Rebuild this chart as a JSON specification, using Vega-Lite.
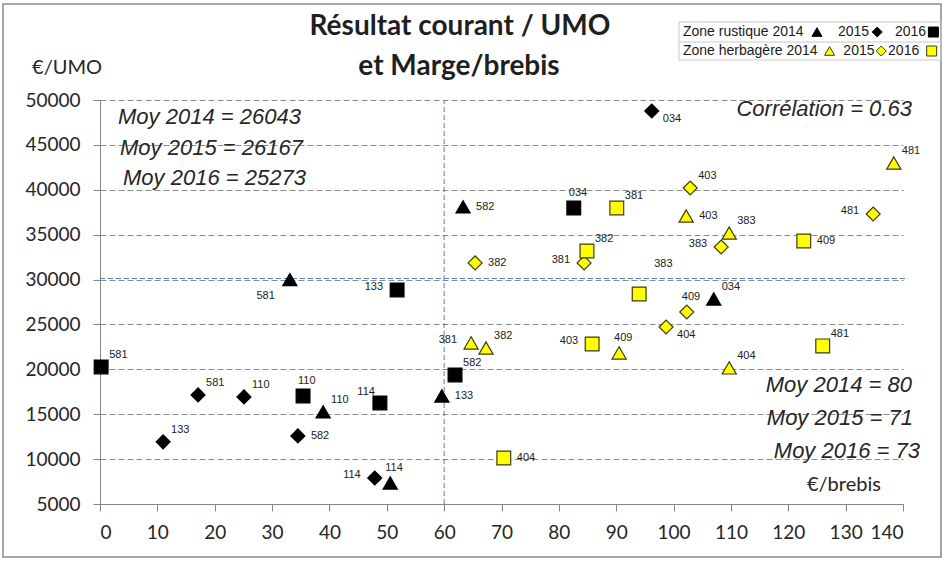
{
  "$schema": "https://vega.github.io/schema/vega-lite/v6.json",
  "width": 803,
  "height": 404,
  "autosize": {"type": "none"},
  "padding": {"left": 100, "top": 100, "right": 39, "bottom": 58},
  "background": "white",
  "config": {
    "view": {"stroke": null},
    "axis": {"labelFont": "Lato", "labelFontSize": 19, "labelColor": "#262626", "domainColor": "#868686", "tickColor": "#868686", "tickSize": 7, "title": null}
  },
  "datasets": {
    "pts": [
      {"zone": "rustique", "year": "2014", "x": 33.1, "y": 30000, "id": "581", "lp": "ll"},
      {"zone": "rustique", "year": "2014", "x": 63.3, "y": 38100, "id": "582", "lp": "r"},
      {"zone": "rustique", "year": "2014", "x": 38.9, "y": 15260, "id": "110", "lp": "ur"},
      {"zone": "rustique", "year": "2014", "x": 50.6, "y": 7350, "id": "114", "lp": "u"},
      {"zone": "rustique", "year": "2014", "x": 59.6, "y": 17040, "id": "133", "lp": "r"},
      {"zone": "rustique", "year": "2014", "x": 107.0, "y": 27840, "id": "034", "lp": "ur"},
      {"zone": "rustique", "year": "2015", "x": 96.2, "y": 48770, "id": "034", "lp": "lr"},
      {"zone": "rustique", "year": "2015", "x": 17.1, "y": 17150, "id": "581", "lp": "ur"},
      {"zone": "rustique", "year": "2015", "x": 25.1, "y": 16930, "id": "110", "lp": "ur"},
      {"zone": "rustique", "year": "2015", "x": 11.0, "y": 11920, "id": "133", "lp": "ur"},
      {"zone": "rustique", "year": "2015", "x": 34.5, "y": 12580, "id": "582", "lp": "r"},
      {"zone": "rustique", "year": "2015", "x": 47.9, "y": 7900, "id": "114", "lp": "l"},
      {"zone": "rustique", "year": "2016", "x": 0.2, "y": 20270, "id": "581", "lp": "ur"},
      {"zone": "rustique", "year": "2016", "x": 51.8, "y": 28840, "id": "133", "lp": "l"},
      {"zone": "rustique", "year": "2016", "x": 35.4, "y": 17040, "id": "110", "lp": "u"},
      {"zone": "rustique", "year": "2016", "x": 48.8, "y": 16260, "id": "114", "lp": "ul"},
      {"zone": "rustique", "year": "2016", "x": 61.9, "y": 19380, "id": "582", "lp": "ur"},
      {"zone": "rustique", "year": "2016", "x": 82.6, "y": 37970, "id": "034", "lp": "u"},
      {"zone": "herbagère", "year": "2014", "x": 138.4, "y": 42980, "id": "481", "lp": "ur"},
      {"zone": "herbagère", "year": "2014", "x": 102.2, "y": 37080, "id": "403", "lp": "r"},
      {"zone": "herbagère", "year": "2014", "x": 109.7, "y": 35190, "id": "383", "lp": "ur"},
      {"zone": "herbagère", "year": "2014", "x": 64.7, "y": 22940, "id": "381", "lp": "l"},
      {"zone": "herbagère", "year": "2014", "x": 67.3, "y": 22380, "id": "382", "lp": "ur"},
      {"zone": "herbagère", "year": "2014", "x": 90.5, "y": 21830, "id": "409", "lp": "u"},
      {"zone": "herbagère", "year": "2014", "x": 109.7, "y": 20160, "id": "404", "lp": "ur"},
      {"zone": "herbagère", "year": "2015", "x": 102.9, "y": 40200, "id": "403", "lp": "ur"},
      {"zone": "herbagère", "year": "2015", "x": 134.8, "y": 37300, "id": "481", "lp": "l"},
      {"zone": "herbagère", "year": "2015", "x": 108.3, "y": 33630, "id": "383", "lp": "l"},
      {"zone": "herbagère", "year": "2015", "x": 65.4, "y": 31850, "id": "382", "lp": "r"},
      {"zone": "herbagère", "year": "2015", "x": 84.4, "y": 31850, "id": "381", "lp": "l"},
      {"zone": "herbagère", "year": "2015", "x": 102.3, "y": 26390, "id": "409", "lp": "u"},
      {"zone": "herbagère", "year": "2015", "x": 98.7, "y": 24720, "id": "404", "lp": "lr"},
      {"zone": "herbagère", "year": "2016", "x": 90.1, "y": 37970, "id": "381", "lp": "ur"},
      {"zone": "herbagère", "year": "2016", "x": 84.9, "y": 33180, "id": "382", "lp": "ur"},
      {"zone": "herbagère", "year": "2016", "x": 122.7, "y": 34300, "id": "409", "lp": "r"},
      {"zone": "herbagère", "year": "2016", "x": 94.0, "y": 28400, "id": "383", "lp": "uu"},
      {"zone": "herbagère", "year": "2016", "x": 85.8, "y": 22830, "id": "403", "lp": "l"},
      {"zone": "herbagère", "year": "2016", "x": 126.0, "y": 22610, "id": "481", "lp": "ur"},
      {"zone": "herbagère", "year": "2016", "x": 70.4, "y": 10130, "id": "404", "lp": "r"}
    ],
    "frame": [{"x": -16.91, "x2": 146.62, "y": 60691, "y2": -891}],
    "legbox": [{"x": 100.94, "x2": 146.62, "y": 58686, "y2": 54454}],
    "legmid": [{"x": 100.94, "x2": 146.62, "y": 56459}],
    "vmean": [{"x": 60, "y": 5000, "y2": 50000}],
    "hmean": [{"x": 0, "x2": 140.4, "y": 30120}],
    "italic": [
      {"x": 3.14, "y": 48107, "t": "Moy 2014  = 26043"},
      {"x": 3.49, "y": 44655, "t": "Moy 2015 = 26167"},
      {"x": 4.01, "y": 41314, "t": "Moy 2016  = 25273"}
    ],
    "italicR": [
      {"x": 141.56, "y": 48998, "t": "Corrélation = 0.63"},
      {"x": 141.56, "y": 18262, "t": "Moy 2014  = 80"},
      {"x": 141.74, "y": 14588, "t": "Moy 2015 = 71"},
      {"x": 142.96, "y": 10913, "t": "Moy 2016  = 73"}
    ],
    "titles": [
      {"x": 62.76, "y": 57238, "t": "Résultat courant / UMO"},
      {"x": 62.59, "y": 52784, "t": "et Marge/brebis"}
    ],
    "units": [
      {"x": -5.75, "y": 53563, "t": "€/UMO"},
      {"x": 129.7, "y": 7126, "t": "€/brebis"}
    ],
    "legtext": [
      {"x": 101.64, "y": 57572, "t": "Zone rustique  2014"},
      {"x": 128.66, "y": 57572, "t": "2015"},
      {"x": 138.6, "y": 57572, "t": "2016"},
      {"x": 101.64, "y": 55457, "t": "Zone herbagère 2014"},
      {"x": 129.6, "y": 55457, "t": "2015"},
      {"x": 137.4, "y": 55457, "t": "2016"}
    ],
    "legsym": [
      {"zone": "rustique", "year": "2014", "x": 125.0, "y": 57572},
      {"zone": "rustique", "year": "2015", "x": 135.5, "y": 57572},
      {"zone": "rustique", "year": "2016", "x": 145.3, "y": 57572},
      {"zone": "herbagère", "year": "2014", "x": 127.2, "y": 55457},
      {"zone": "herbagère", "year": "2015", "x": 136.2, "y": 55457},
      {"zone": "herbagère", "year": "2016", "x": 145.0, "y": 55457}
    ]
  },
  "encoding": {
    "x": {"field": "x", "type": "quantitative", "scale": {"domain": [0, 140], "nice": false, "zero": false},
      "axis": {"values": [0, 10, 20, 30, 40, 50, 60, 70, 80, 90, 100, 110, 120, 130, 140], "format": "d", "grid": false, "labelPadding": 12, "labelBaseline": "top", "title": null}},
    "y": {"field": "y", "type": "quantitative", "scale": {"domain": [5000, 50000], "nice": false, "zero": false},
      "axis": {"values": [5000, 10000, 15000, 20000, 25000, 30000, 35000, 40000, 45000, 50000], "format": "d", "grid": true, "gridColor": "#8c8c8c", "gridDash": [6, 3], "gridWidth": 1, "labelPadding": 13, "title": null}}
  },
  "layer": [
    {"data": {"name": "frame"}, "mark": {"type": "rect", "fill": null, "fillOpacity": 0, "stroke": "#8a8a8a", "strokeWidth": 1.5, "clip": false}, "encoding": {"x2": {"field": "x2"}, "y2": {"field": "y2"}}},
    {"data": {"name": "legbox"}, "mark": {"type": "rect", "fill": null, "fillOpacity": 0, "stroke": "#c8c8c8", "strokeWidth": 1}, "encoding": {"x2": {"field": "x2"}, "y2": {"field": "y2"}}},
    {"data": {"name": "legmid"}, "mark": {"type": "rule", "stroke": "#c8c8c8", "strokeWidth": 1}, "encoding": {"x2": {"field": "x2"}}},
    {"data": {"name": "vmean"}, "mark": {"type": "rule", "stroke": "#4f81bd", "strokeWidth": 1, "strokeDash": [5, 3]}, "encoding": {"y2": {"field": "y2"}}},
    {"data": {"name": "hmean"}, "mark": {"type": "rule", "stroke": "#4f81bd", "strokeWidth": 1, "strokeDash": [5, 3]}, "encoding": {"x2": {"field": "x2"}}},
    {"data": {"name": "pts"}, "mark": {"type": "point", "filled": true, "opacity": 1, "strokeWidth": 1.2},
      "encoding": {
        "shape": {"field": "year", "type": "nominal", "scale": {"domain": ["2014", "2015", "2016"], "range": ["triangle-up", "diamond", "square"]}, "legend": null},
        "fill": {"field": "zone", "type": "nominal", "scale": {"domain": ["rustique", "herbagère"], "range": ["#000000", "#ffff00"]}, "legend": null},
        "stroke": {"field": "zone", "type": "nominal", "scale": {"domain": ["rustique", "herbagère"], "range": ["#000000", "#3d3d10"]}, "legend": null},
        "size": {"field": "year", "type": "nominal", "scale": {"domain": ["2014", "2015", "2016"], "range": [200, 190, 210]}, "legend": null}
      }},
    {"data": {"name": "legsym"}, "mark": {"type": "point", "filled": true, "opacity": 1, "strokeWidth": 1, "size": 100},
      "encoding": {
        "shape": {"field": "year", "type": "nominal", "legend": null},
        "fill": {"field": "zone", "type": "nominal", "legend": null},
        "stroke": {"field": "zone", "type": "nominal", "legend": null}
      }},
    {"data": {"name": "pts"}, "transform": [{"filter": "datum.lp == 'r'"}], "mark": {"type": "text", "align": "left", "baseline": "middle", "dx": 13, "dy": 0, "font": "Liberation Sans", "fontSize": 11, "fill": "#222222"}, "encoding": {"text": {"field": "id"}}},
    {"data": {"name": "pts"}, "transform": [{"filter": "datum.lp == 'ur'"}], "mark": {"type": "text", "align": "left", "baseline": "middle", "dx": 8, "dy": -12, "font": "Liberation Sans", "fontSize": 11, "fill": "#222222"}, "encoding": {"text": {"field": "id"}}},
    {"data": {"name": "pts"}, "transform": [{"filter": "datum.lp == 'lr'"}], "mark": {"type": "text", "align": "left", "baseline": "middle", "dx": 11, "dy": 8, "font": "Liberation Sans", "fontSize": 11, "fill": "#222222"}, "encoding": {"text": {"field": "id"}}},
    {"data": {"name": "pts"}, "transform": [{"filter": "datum.lp == 'l'"}], "mark": {"type": "text", "align": "right", "baseline": "middle", "dx": -14, "dy": -3, "font": "Liberation Sans", "fontSize": 11, "fill": "#222222"}, "encoding": {"text": {"field": "id"}}},
    {"data": {"name": "pts"}, "transform": [{"filter": "datum.lp == 'ul'"}], "mark": {"type": "text", "align": "right", "baseline": "middle", "dx": -5, "dy": -11, "font": "Liberation Sans", "fontSize": 11, "fill": "#222222"}, "encoding": {"text": {"field": "id"}}},
    {"data": {"name": "pts"}, "transform": [{"filter": "datum.lp == 'll'"}], "mark": {"type": "text", "align": "right", "baseline": "middle", "dx": -15, "dy": 16, "font": "Liberation Sans", "fontSize": 11, "fill": "#222222"}, "encoding": {"text": {"field": "id"}}},
    {"data": {"name": "pts"}, "transform": [{"filter": "datum.lp == 'u'"}], "mark": {"type": "text", "align": "left", "baseline": "middle", "dx": -5, "dy": -15, "font": "Liberation Sans", "fontSize": 11, "fill": "#222222"}, "encoding": {"text": {"field": "id"}}},
    {"data": {"name": "pts"}, "transform": [{"filter": "datum.lp == 'uu'"}], "mark": {"type": "text", "align": "left", "baseline": "middle", "dx": 15, "dy": -30, "font": "Liberation Sans", "fontSize": 11, "fill": "#222222"}, "encoding": {"text": {"field": "id"}}},
    {"data": {"name": "italic"}, "mark": {"type": "text", "align": "left", "baseline": "middle", "font": "Liberation Sans", "fontStyle": "italic", "fontSize": 22, "fill": "#262626"}, "encoding": {"text": {"field": "t"}}},
    {"data": {"name": "italicR"}, "mark": {"type": "text", "align": "right", "baseline": "middle", "font": "Liberation Sans", "fontStyle": "italic", "fontSize": 22, "fill": "#262626"}, "encoding": {"text": {"field": "t"}}},
    {"data": {"name": "titles"}, "mark": {"type": "text", "align": "center", "baseline": "alphabetic", "font": "Lato", "fontWeight": "bold", "fontSize": 28, "fill": "#1f1f1f"}, "encoding": {"text": {"field": "t"}}},
    {"data": {"name": "units"}, "mark": {"type": "text", "align": "center", "baseline": "middle", "font": "Lato", "fontSize": 20, "fill": "#262626"}, "encoding": {"text": {"field": "t"}}},
    {"data": {"name": "legtext"}, "mark": {"type": "text", "align": "left", "baseline": "middle", "font": "Liberation Sans", "fontSize": 14, "fill": "#1a1a1a"}, "encoding": {"text": {"field": "t"}}}
  ]
}
